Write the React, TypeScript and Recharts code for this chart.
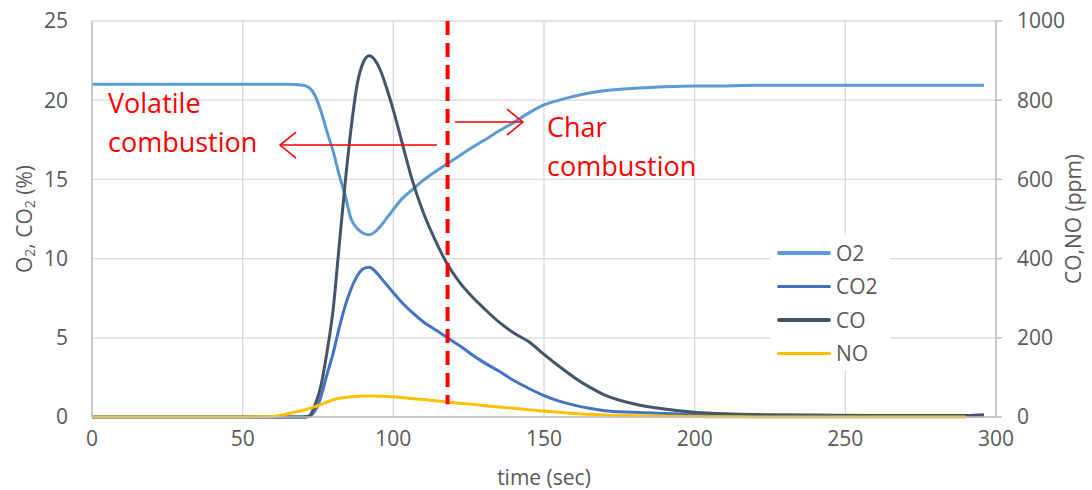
import React from 'react'
import {
  LineChart, Line, XAxis, YAxis, CartesianGrid, Legend, ReferenceLine, ReferenceDot, Label,
} from 'recharts'

// time points (sec), shared by every series
const times = [0, 10, 20, 30, 40, 50, 55, 60, 62, 65, 70, 72, 74, 76, 78, 80, 82, 84, 86, 88, 90, 92, 94, 96, 98, 100, 103, 106, 110, 114, 118, 122, 126, 130, 135, 140, 145, 150, 155, 160, 165, 170, 180, 190, 200, 210, 220, 240, 260, 280, 290, 296]

// O2 (%)
const o2 = [21, 21, 21, 21, 21, 21, 21, 21, 21, 21, 20.95, 20.8, 20.3, 19.3, 18.0, 16.8, 15.3, 14.0, 12.5, 11.9, 11.6, 11.5, 11.7, 12.1, 12.6, 13.1, 13.8, 14.3, 14.95, 15.5, 16.0, 16.5, 17.0, 17.45, 18.05, 18.6, 19.2, 19.7, 20.0, 20.25, 20.45, 20.6, 20.75, 20.85, 20.9, 20.9, 20.95, 20.95, 20.95, 20.95, 20.95, 20.95]

// CO2 (%)
const co2 = [0, 0, 0, 0, 0, 0, 0, 0, 0, 0, 0, 0.05, 0.4, 1.3, 2.7, 4.0, 5.6, 7.0, 8.1, 8.9, 9.35, 9.45, 9.2, 8.75, 8.3, 7.85, 7.2, 6.65, 6.0, 5.5, 5.0, 4.5, 3.95, 3.45, 2.9, 2.3, 1.8, 1.35, 1.0, 0.75, 0.55, 0.4, 0.3, 0.22, 0.18, 0.15, 0.12, 0.1, 0.08, 0.07, 0.07, 0.1]

// CO (ppm)
const co = [0, 0, 0, 0, 0, 0, 0, 0, 0, 0, 0, 2, 30, 80, 165, 270, 430, 590, 730, 840, 895, 912, 900, 870, 825, 775, 690, 605, 515, 445, 385, 340, 305, 275, 240, 212, 190, 158, 128, 100, 76, 56, 33, 20, 12, 8, 6, 5, 4, 4, 4, 6]

// NO (ppm)
const no = [0, 0, 0, 0, 0, 0, 0.5, 1.5, 3, 8, 17, 21, 26, 32, 38, 43, 47, 49, 51, 52, 53, 53, 53, 52.5, 52, 51, 49, 47, 44, 41, 38, 35, 32, 29, 25, 22, 18, 15, 12, 9, 7, 5, 3, 2, 1, 0.5, 0.3, 0, 0, 0, 0, null]

const seriesNames = ['O2', 'CO2', 'CO', 'NO']
const xTicks = [0, 50, 100, 150, 200, 250, 300]
const leftTicks = [0, 5, 10, 15, 20, 25]
const rightTicks = [0, 200, 400, 600, 800, 1000]

const data = times.map((t, i) => ({ t, O2: o2[i], CO2: co2[i], CO: co[i], NO: no[i] }))

const FONT = '"Open Sans", sans-serif'
const GREY = '#595959'
const RED = '#FF0000'

const tickStyle = { fontFamily: FONT, fontSize: 21, fill: GREY }

const Arrow = (p: any) => {
  const { x1, y1, x2, y2 } = p
  const len = Math.hypot(x2 - x1, y2 - y1) || 1
  const dx = (x2 - x1) / len
  const dy = (y2 - y1) / len
  const bx = x2 - dx * 16
  const by = y2 - dy * 16
  return (
    <g stroke={RED} strokeWidth={1.6} fill="none">
      <line x1={x1} y1={y1} x2={x2} y2={y2} />
      <polyline points={`${bx - dy * 13},${by + dx * 13} ${x2},${y2} ${bx + dy * 13},${by - dx * 13}`} />
    </g>
  )
}

const note = (lines: string[]) => (p: any) => (
  <text x={p.cx} y={p.cy} fill={RED} fontFamily={FONT} fontSize={27}>
    {lines.map((l, i) => (
      <tspan key={l} x={p.cx} dy={i === 0 ? 0 : 39}>{l}</tspan>
    ))}
  </text>
)

// keep the legend in series order (recharts sorts it by name otherwise)
const LegendBox = ({ payload }: any) => {
  const items = seriesNames
    .map((n) => (payload || []).find((e: any) => e.value === n))
    .filter(Boolean)
  return (
    <div style={{ background: '#fff', width: 120, height: 135, paddingTop: 1, boxSizing: 'border-box' }}>
      {items.map((e: any) => (
        <div key={e.value} style={{ display: 'flex', alignItems: 'center', height: 33.5 }}>
          <div style={{ marginLeft: 7, width: 54, height: 3.5, borderRadius: 2, background: e.color }} />
          <span style={{ marginLeft: 5, fontFamily: FONT, fontSize: 21, color: GREY }}>{e.value}</span>
        </div>
      ))}
    </div>
  )
}

const LeftTitle = ({ viewBox }: any) => {
  const cy = viewBox.y + viewBox.height / 2
  return (
    <text x={24} y={cy} transform={`rotate(-90 24 ${cy})`} textAnchor="middle" dominantBaseline="central"
      fontFamily={FONT} fontSize={21} fill={GREY}>
      O<tspan fontSize={14} dy={5}>2</tspan><tspan dy={-5}>, CO</tspan><tspan fontSize={14} dy={5}>2</tspan><tspan dy={-5}> (%)</tspan>
    </text>
  )
}

const RightTitle = ({ viewBox }: any) => {
  const cy = viewBox.y + viewBox.height / 2
  return (
    <text x={1073} y={cy} transform={`rotate(-90 1073 ${cy})`} textAnchor="middle" dominantBaseline="central"
      fontFamily={FONT} fontSize={21} fill={GREY}>
      CO,NO (ppm)
    </text>
  )
}

export default function App() {
  return (
    <div style={{ position: 'absolute', left: 0, top: 0, width: 1092, height: 490, background: '#fff' }}>
      <LineChart width={1092} height={490} data={data} margin={{ top: 21, right: 0, bottom: 0, left: 0 }}>
        <CartesianGrid yAxisId="left" stroke="#D9D9D9" strokeWidth={1.3} />
        <XAxis dataKey="t" type="number" domain={[0, 300]} ticks={xTicks} height={73}
          stroke="#BFBFBF" strokeWidth={1.5} tickLine={false} tickSize={6} tickMargin={8} tick={tickStyle}>
          <Label value="time (sec)" position="insideBottom" offset={5} style={{ fontFamily: FONT, fontSize: 21, fill: GREY }} />
        </XAxis>
        <YAxis yAxisId="left" domain={[0, 25]} ticks={leftTicks} width={92}
          stroke="#BFBFBF" strokeWidth={1.5} tickLine={false} tickSize={6} tickMargin={18} tick={tickStyle}>
          <Label content={LeftTitle} />
        </YAxis>
        <YAxis yAxisId="right" orientation="right" domain={[0, 1000]} ticks={rightTicks} width={96}
          stroke="#BFBFBF" strokeWidth={1.5} tickLine={{ stroke: '#BFBFBF' }} tickSize={6} tickMargin={15} tick={tickStyle}>
          <Label content={RightTitle} />
        </YAxis>
        <Legend layout="vertical" align="center" verticalAlign="middle" content={LegendBox}
          wrapperStyle={{ position: 'absolute', left: 770, top: 235, width: 120, height: 135 }} />
        <Line yAxisId="left" dataKey="O2" name="O2" type="monotone" stroke="#5B9BD5" strokeWidth={3} dot={false} isAnimationActive={false} />
        <Line yAxisId="left" dataKey="CO2" name="CO2" type="monotone" stroke="#4472C4" strokeWidth={3} dot={false} isAnimationActive={false} />
        <Line yAxisId="right" dataKey="CO" name="CO" type="monotone" stroke="#44546A" strokeWidth={3} dot={false} isAnimationActive={false} />
        <Line yAxisId="right" dataKey="NO" name="NO" type="monotone" stroke="#FFC000" strokeWidth={3} dot={false} isAnimationActive={false} />
        <ReferenceLine yAxisId="left" segment={[{ x: 118, y: 25 }, { x: 118, y: 0.8 }]}
          stroke={RED} strokeWidth={4} strokeDasharray="14 8" />
        <ReferenceLine yAxisId="left" segment={[{ x: 114.5, y: 17.17 }, { x: 62.4, y: 17.17 }]} shape={Arrow} />
        <ReferenceLine yAxisId="left" segment={[{ x: 120.5, y: 18.62 }, { x: 143, y: 18.62 }]} shape={Arrow} />
        <ReferenceDot yAxisId="left" x={5.3} y={19.19} r={0} shape={note(['Volatile', 'combustion'])} />
        <ReferenceDot yAxisId="left" x={151} y={17.68} r={0} shape={note(['Char', 'combustion'])} />
      </LineChart>
    </div>
  )
}
